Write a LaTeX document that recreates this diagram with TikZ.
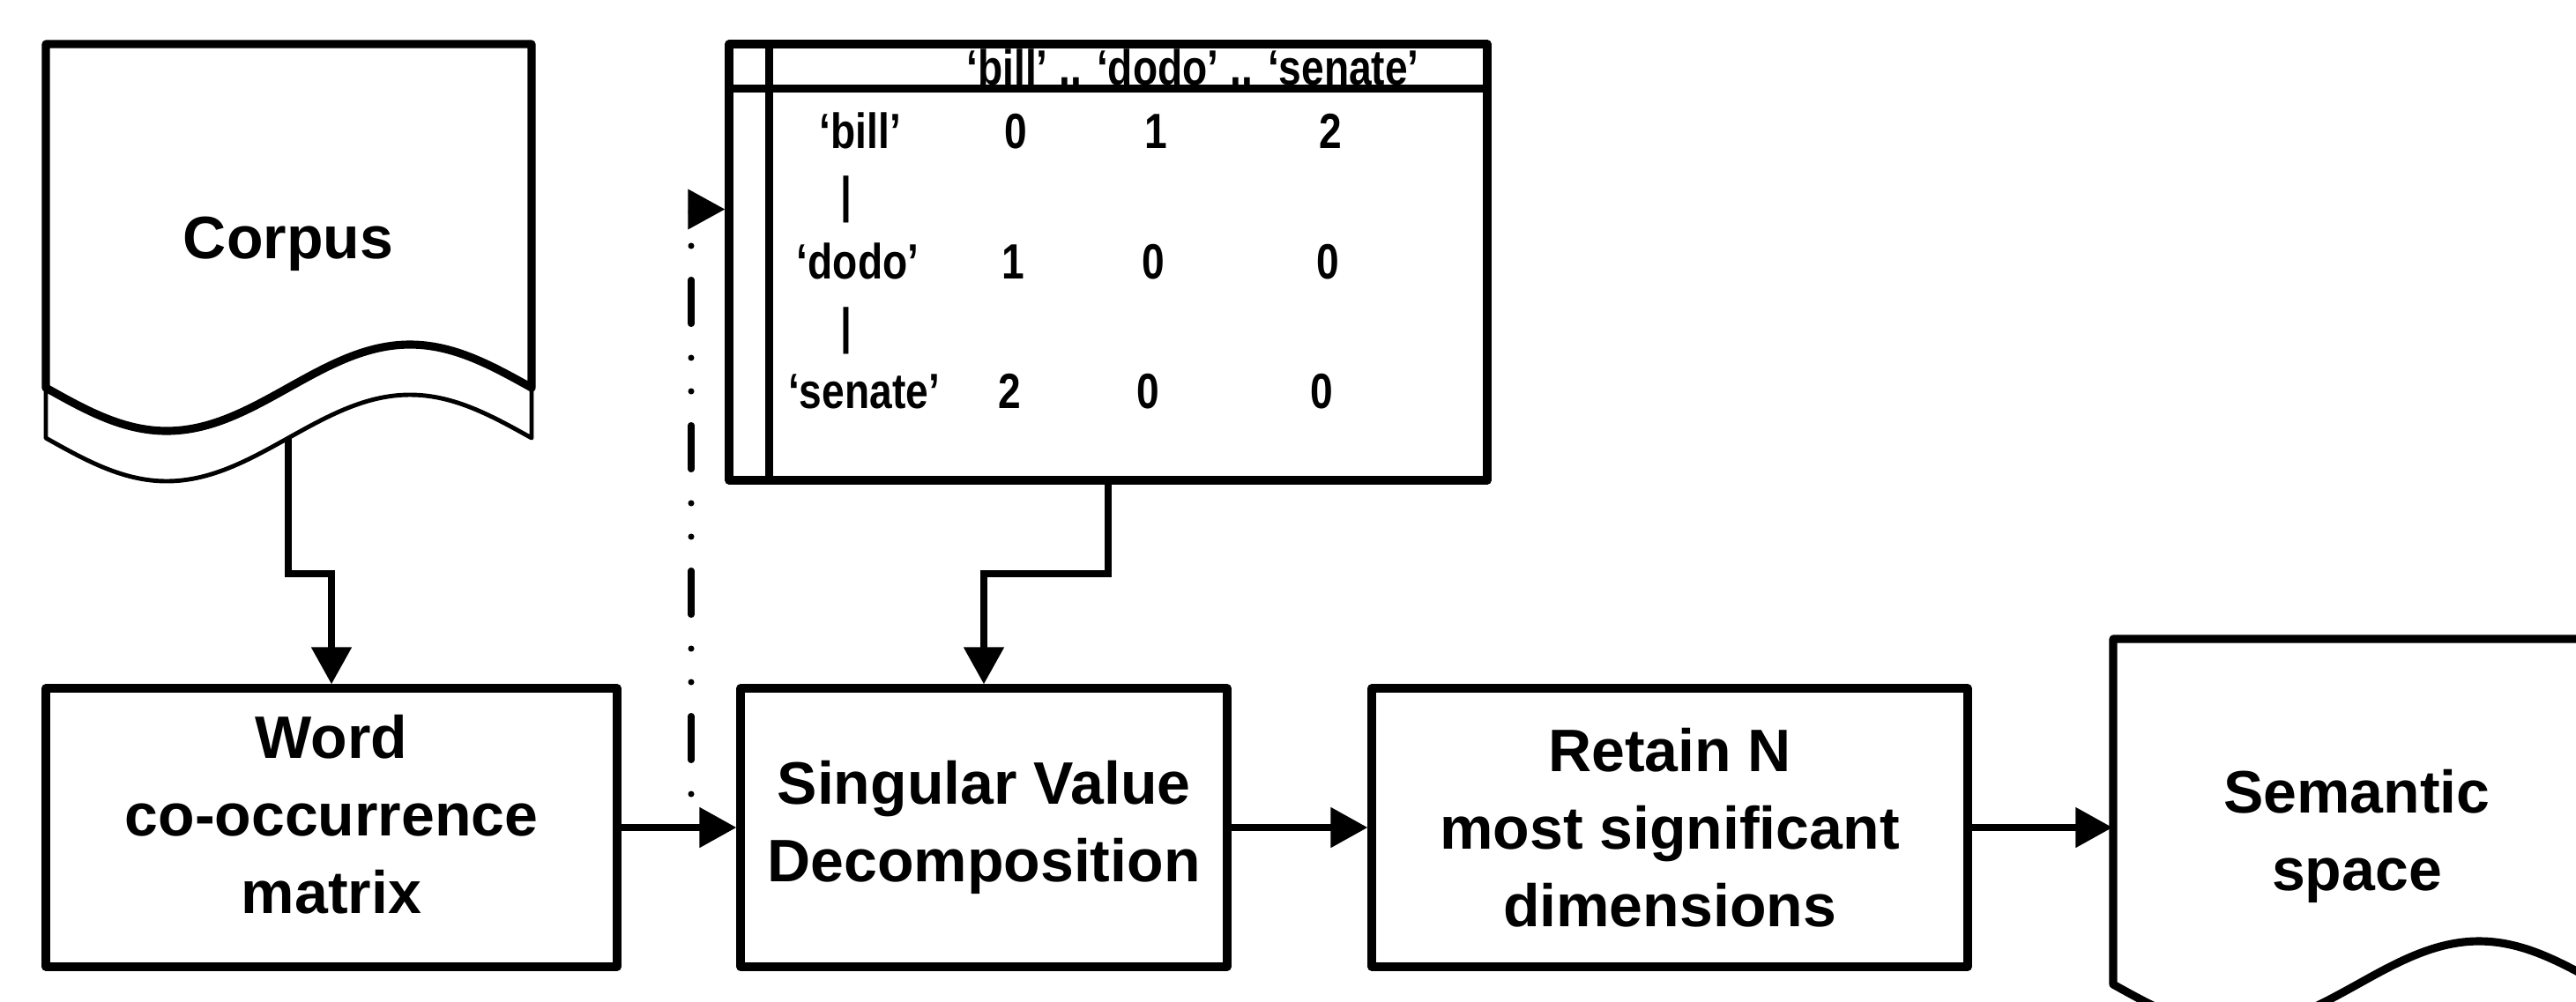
\documentclass[tikz,border=0pt]{standalone}
\usepackage{fontspec}
\setmainfont{Liberation Sans}
\newfontfamily\narrowsans[FakeStretch=0.82]{Liberation Sans}
\usepackage{tikz}
\usetikzlibrary{arrows.meta,positioning,calc}

\tikzset{
  box/.style={rectangle,draw,line width=2.6pt,line join=round,minimum height=3.16cm,inner sep=0pt,align=center,font=\fontsize{19.35}{25}\selectfont\bfseries},
  doctext/.style={inner sep=0pt,align=center,font=\fontsize{19.35}{25}\selectfont\bfseries},
  flow/.style={line width=2.3pt,-{Triangle[length=0.42cm,width=0.44cm]}},
  cell/.style={anchor=base,inner sep=0pt,font=\narrowsans\fontsize{16}{19}\selectfont\bfseries},
  doc/.style={line width=2.6pt,line join=round},
  page/.style={line width=1.4pt,line join=round},
  grid/.style={line width=2.6pt},
}

\begin{document}
\begin{tikzpicture}
\useasboundingbox (0,0) rectangle (29.22,11.36);
\fill[white] (0,0) rectangle (29.22,11.36);
\clip (0,0) rectangle (29.22,11.36);

% Corpus document
\draw[doc] (0.52,6.96) -- (0.52,10.86) -- (6.03,10.86) -- (6.03,6.96) sin (4.65,7.45) cos (3.27,6.96) sin (1.89,6.47) cos (0.52,6.96) -- cycle;
\draw[page] (0.52,6.96) -- (0.52,6.39) sin (1.89,5.90) cos (3.27,6.39) coordinate (cout) sin (4.65,6.88) cos (6.03,6.39) -- (6.03,6.96);
\node[doctext,anchor=base] (corpus) at (3.27,8.43) {Corpus};

% Processing steps
\node[box,minimum width=6.48cm] (word) at (3.76,1.97) {Word\\co-occurrence\\matrix\rule[-0.3cm]{0pt}{0pt}};
\node[box,minimum width=5.52cm] (svd) at (11.16,1.97) {Singular Value\\Decomposition};
\node[box,minimum width=6.76cm] (retain) at (18.94,1.97) {Retain N\\most significant\\dimensions};

% Semantic space document
\draw[doc] (23.97,0.19) -- (23.97,4.11) -- (29.50,4.11) -- (29.50,0.19) sin (28.12,0.68) cos (26.74,0.19) sin (25.35,-0.30) cos (23.97,0.19) -- cycle;
\node[doctext,minimum width=5.53cm] (sem) at (26.735,1.875) {Semantic\\space};

% Co-occurrence matrix
\node[draw,line width=2.6pt,line join=round,minimum width=8.60cm,minimum height=4.95cm,inner sep=0pt] (mat) at (12.57,8.385) {};
\draw[grid] ([yshift=-0.55cm]mat.north west) -- ([yshift=-0.55cm]mat.north east);
\draw[grid] ([xshift=0.5cm]mat.north west) -- ([xshift=0.5cm]mat.south west);
\node[cell] (head) at (13.53,10.40) {‘bill’ .. ‘dodo’ .. ‘senate’};
\node[cell] (bill) at (9.76,9.68) {‘bill’};
\node[cell] (b1) at (11.52,9.68) {0};
\node[cell] (b2) at (13.11,9.68) {1};
\node[cell] (b3) at (15.09,9.68) {2};
\node[cell,anchor=center] (bar1) at (9.60,9.10) {|};
\node[cell] (dodo) at (9.73,8.20) {‘dodo’};
\node[cell] (d1) at (11.49,8.20) {1};
\node[cell] (d2) at (13.08,8.20) {0};
\node[cell] (d3) at (15.06,8.20) {0};
\node[cell,anchor=center] (bar2) at (9.60,7.61) {|};
\node[cell] (senate) at (9.80,6.73) {‘senate’};
\node[cell] (s1) at (11.45,6.73) {2};
\node[cell] (s2) at (13.02,6.73) {0};
\node[cell] (s3) at (14.99,6.73) {0};

% Connectors
\draw[flow] (cout) |- ([yshift=1.25cm]word.north) -- (word.north);
\draw[flow] (mat.south) |- ([yshift=1.25cm]svd.north) -- (svd.north);
\draw[flow] (word) -- (svd);
\draw[flow] (svd) -- (retain);
\draw[flow] (retain.east) -- (retain.east -| sem.west);

% Feedback to the matrix
\coordinate (tap) at (7.84,1.97);
\draw[flow,line width=2pt,line cap=round,dash pattern=on 0pt off 0.38cm on 0pt off 0.385cm on 0.5cm off 0.385cm] (tap) |- ([yshift=0.6cm]mat.west);
\end{tikzpicture}
\end{document}
